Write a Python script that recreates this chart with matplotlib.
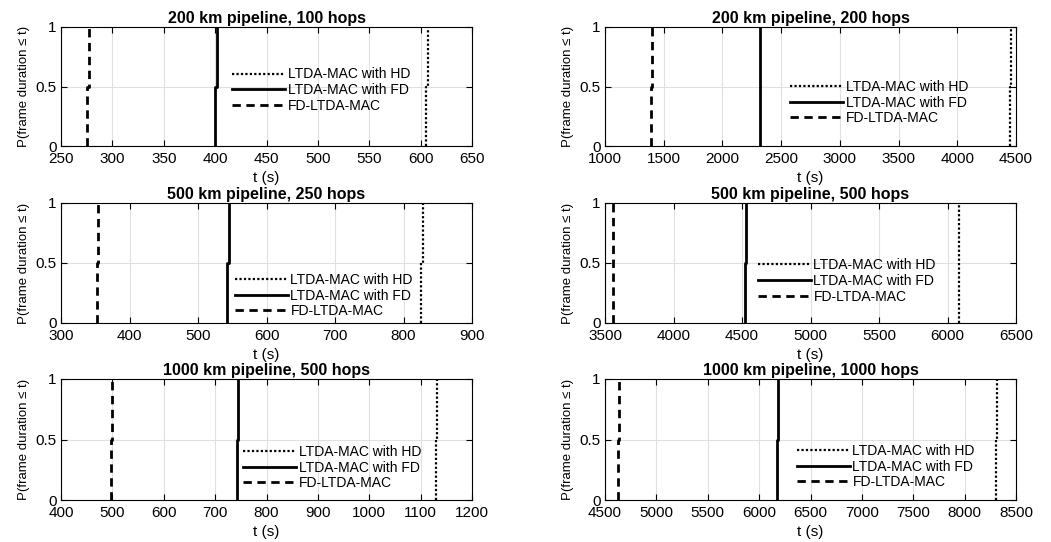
import matplotlib
matplotlib.use("Agg")
import matplotlib.pyplot as plt
from matplotlib import font_manager
import numpy as np

plt.rcParams['font.family'] = ['Liberation Sans', 'DejaVu Sans']

titles = ["200 km pipeline, 100 hops", "200 km pipeline, 200 hops",
          "500 km pipeline, 250 hops", "500 km pipeline, 500 hops",
          "1000 km pipeline, 500 hops", "1000 km pipeline, 1000 hops"]
series_names = ["LTDA-MAC with HD", "LTDA-MAC with FD", "FD-LTDA-MAC"]

# Empirical CDF samples (two samples each -> steps at 0.5)
hd_samples = [[605.5, 607.5], [4452, 4456], [825.5, 828], [6083, 6087], [1129, 1131], [8308, 8312]]
fd_samples = [[399.5, 401.5], [2320, 2324], [542.5, 545], [4520, 4530], [742, 745], [6178, 6182]]
fdl_samples = [[275, 277.5], [1392, 1396], [352, 354], [3555, 3560], [497.5, 499.5], [4628, 4632]]

xlims = [(250, 650), (1000, 4500), (300, 900), (3500, 6500), (400, 1200), (4500, 8500)]
xticks = [np.arange(250, 651, 50), np.arange(1000, 4501, 500), np.arange(300, 901, 100),
          np.arange(3500, 6501, 500), np.arange(400, 1201, 100), np.arange(4500, 8501, 500)]
yticks = [0, 0.5, 1]
legend_anchor = [(0.416, 0.66), (0.45, 0.555), (0.423, 0.417), (0.372, 0.54), (0.443, 0.455), (0.467, 0.463)]

names = {f.name for f in font_manager.fontManager.ttflist}
ylab_family = ['Liberation Sans Narrow', 'Liberation Sans', 'DejaVu Sans'] if 'Liberation Sans Narrow' in names else ['Liberation Sans', 'DejaVu Sans']
ylab_size = 11 if 'Liberation Sans Narrow' in names else 9.5

def ecdf_xy(samples):
    s = np.sort(np.asarray(samples, dtype=float))
    n = len(s)
    x = []
    y = []
    for i, v in enumerate(s):
        x += [v, v]
        y += [i / n, (i + 1) / n]
    return np.array(x), np.array(y)

fig = plt.figure(figsize=(10.51, 5.42), dpi=100)
W, H = 1051, 542
lefts = [61, 605]
width = 411
rows = [(27, 146), (203, 323), (379, 500)]

for k in range(6):
    r, c = divmod(k, 2)
    top, bot = rows[r]
    ax = fig.add_axes([lefts[c] / W, 1 - bot / H, width / W, (bot - top) / H])
    x, y = ecdf_xy(hd_samples[k])
    ax.plot(x, y, color='black', linestyle=(0, (1, 1)), linewidth=1.6, label=series_names[0])
    x, y = ecdf_xy(fd_samples[k])
    ax.plot(x, y, color='black', linestyle='-', linewidth=2.0, label=series_names[1])
    x, y = ecdf_xy(fdl_samples[k])
    ax.plot(x, y, color='black', linestyle=(0, (3, 2)), linewidth=2.0, label=series_names[2])
    ax.set_xlim(*xlims[k])
    ax.set_ylim(0, 1)
    ax.set_xticks(xticks[k])
    ax.set_yticks(yticks)
    ax.set_yticklabels(['0', '0.5', '1'])
    ax.grid(True, color='#e0e0e0', linewidth=0.8)
    ax.set_axisbelow(True)
    ax.tick_params(direction='in', top=True, right=True, labelsize=11, length=4, width=0.8)
    ax.tick_params(axis='x', pad=4)
    ax.tick_params(axis='y', pad=3)
    for sp in ax.spines.values():
        sp.set_linewidth(0.8)
    ax.set_title(titles[k], fontsize=11.5, fontweight='bold', pad=3)
    ax.set_xlabel('t (s)', fontsize=11, labelpad=4)
    ax.set_ylabel('P(frame duration \u2264 t)', fontsize=ylab_size, family=ylab_family, labelpad=4)
    ax.legend(loc='upper left', bbox_to_anchor=legend_anchor[k], frameon=False,
              fontsize=10, handlelength=3.8, handletextpad=0.2, labelspacing=0.12,
              borderpad=0, borderaxespad=0)

fig.savefig('out.png', dpi=100)
